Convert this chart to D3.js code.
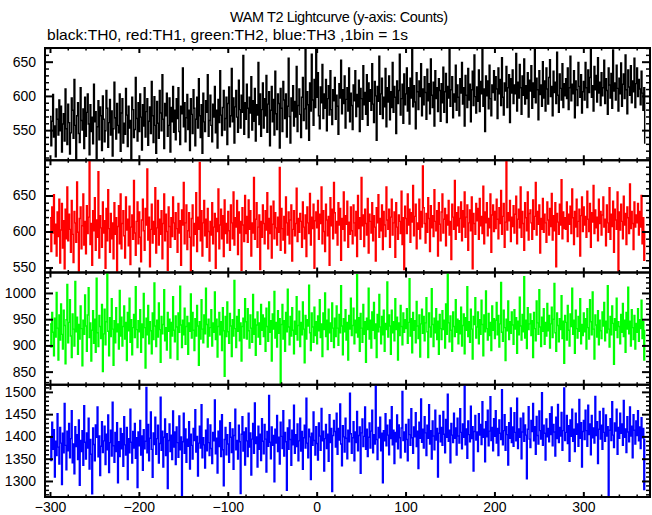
<!DOCTYPE html>
<html><head><meta charset="utf-8">
<script src="https://cdn.jsdelivr.net/npm/d3@7"></script>
<style>
html,body{margin:0;padding:0;background:#fff;}
svg{display:block;font-family:"Liberation Sans",Arial,Helvetica,sans-serif;}
</style></head>
<body><svg id="c" width="652" height="515"></svg>
<script>
// ---------------- data ----------------
const titleText = "WAM T2 Lightcurve (y-axis: Counts)";
const subtitleText = "black:TH0, red:TH1, green:TH2, blue:TH3 ,1bin = 1s";
const seriesNames = ["TH0","TH1","TH2","TH3"];
const seriesColors = ["#000000","#ff0000","#00ff00","#0000ff"];
const tStart = -300;   // time of first bin (s)
const binSize = 1;     // 1bin = 1s
const xDomain = [-305.6, 375];
const xMajorTicks = [-300,-200,-100,0,100,200,300];
const yDomains = [[506,670],[543,699],[825,1039],[1264,1516]];
const yMajorTicks = [[550,600,650],[550,600,650],[850,900,950,1000],[1300,1350,1400,1450,1500]];

const th0 = [
570,527,563,602,540,556,511,581,566,543,594,549,585,518,559,574,534,610,552,529,
588,561,515,546,597,579,538,624,557,507,571,590,545,532,612,564,550,581,523,598,
541,576,603,559,514,587,548,569,530,617,562,577,509,555,593,536,584,571,520,600,
566,533,549,608,582,525,561,595,543,578,512,552,620,568,537,589,557,546,603,519,
575,596,531,560,544,611,572,526,585,553,564,507,598,580,539,551,627,567,534,590,
548,603,569,521,587,556,612,540,577,596,528,563,584,545,621,571,532,599,557,516,
592,560,538,608,575,549,631,566,523,589,571,604,541,557,597,518,583,562,614,547,
579,536,596,567,612,548,529,585,574,641,555,590,533,568,602,551,579,520,596,573,
545,609,582,527,566,598,553,625,571,539,587,516,604,562,548,593,576,631,541,564,
601,557,533,588,569,614,546,579,524,595,561,637,572,542,583,608,550,567,598,529,
589,613,555,571,640,562,597,531,584,608,569,547,623,580,553,601,576,659,544,590,
566,617,582,539,598,575,628,550,593,563,611,534,587,572,649,558,603,541,580,619,
553,596,571,630,547,588,606,527,579,614,562,595,543,636,574,551,603,589,524,611,
582,548,621,594,567,603,540,585,655,570,531,597,578,615,556,592,569,643,548,586,
610,573,539,598,627,564,581,668,552,606,587,535,619,578,661,594,557,624,583,671,
598,634,571,552,613,590,646,567,603,582,624,549,596,615,572,637,580,558,609,593,
627,566,601,585,544,618,597,652,574,609,589,629,553,595,612,578,641,562,604,586,
551,616,593,637,570,602,584,623,548,611,596,566,644,587,605,573,631,557,619,592,
609,579,647,588,561,621,600,535,614,592,658,573,603,626,567,598,584,640,555,612,
591,629,565,606,583,649,576,614,598,545,622,589,608,661,572,596,617,560,632,587,
603,641,578,612,559,626,597,668,584,615,591,552,634,606,580,622,599,647,571,610,
587,628,605,566,639,593,618,574,654,601,583,620,556,637,596,612,577,625,608,563,
618,590,642,576,606,633,561,614,597,671,585,609,628,568,603,591,645,579,616,598,
571,625,604,649,588,612,556,630,601,583,640,594,617,562,609,636,586,660,599,575,
613,592,638,577,621,603,668,585,610,548,629,600,622,581,645,596,571,616,605,637,
594,628,610,567,641,603,624,586,656,598,572,619,607,643,583,612,631,561,625,604,
638,589,616,603,662,578,620,597,646,612,573,629,601,654,588,615,596,634,569,623,
607,644,582,619,598,671,590,626,609,565,637,602,616,585,650,597,622,578,641,610,
588,627,653,599,614,571,636,605,620,589,664,601,576,632,611,594,647,583,618,600,
625,596,641,580,612,658,593,617,603,637,568,622,609,586,649,614,598,631,575,606,
621,594,649,612,583,638,605,627,671,598,615,578,643,609,630,591,656,604,620,586,
634,600,612,652,589,625,608,573,641,616,597,633,582,667,607,619,594,645,611,578,
626,603,648,585,617,632,596,660,609,574,638,613,601,644,590,622,606,655,583,618,
641,599,624,610,587,636,604,579,612,530];

const th1 = [
619,572,634,598,651,583,610,566,627,593,645,556,602,639,577,615,548,631,590,662,
587,624,603,571,643,596,557,628,612,585,669,599,545,618,634,576,608,652,581,614,
569,636,597,620,700,582,611,553,629,601,647,574,616,592,683,563,622,605,578,641,
598,615,549,632,587,658,604,571,625,590,612,562,640,596,619,545,607,636,583,652,
576,611,629,594,563,648,602,617,580,635,554,606,623,589,671,598,567,614,641,583,
627,592,558,616,645,601,574,632,609,687,588,620,551,603,638,584,614,596,661,570,
605,643,581,617,596,629,562,611,652,587,624,600,546,634,607,578,619,593,648,612,
589,626,604,571,639,598,615,553,630,609,668,583,612,637,575,601,626,592,545,618,
637,580,611,596,654,572,620,603,696,587,629,566,612,643,594,617,578,632,600,559,
614,595,640,583,606,625,549,618,600,659,576,609,631,590,622,565,644,597,611,584,
628,601,574,637,612,590,655,581,619,606,643,568,627,598,614,546,633,609,586,650,
597,621,585,644,603,629,566,612,598,675,589,617,640,578,606,623,547,614,592,637,
611,583,629,602,654,576,618,597,635,563,610,642,590,626,605,581,620,599,689,574,
632,604,588,621,570,648,612,595,627,583,616,637,559,603,629,594,611,660,586,618,
599,625,614,578,641,606,590,623,565,634,612,597,653,581,620,604,638,549,615,627,
605,643,589,624,611,662,583,629,600,572,638,616,594,621,553,647,608,631,590,668,
626,598,614,581,640,609,632,560,618,603,655,587,622,610,642,578,613,596,634,601,
583,637,612,594,628,565,650,604,619,589,675,608,623,579,631,611,595,646,570,624,
614,598,640,587,622,606,559,633,612,651,592,618,601,637,575,628,609,593,662,616,
603,631,578,620,645,595,612,627,564,640,606,589,623,614,597,656,582,619,547,635,
618,597,652,609,631,585,626,613,664,594,621,638,576,612,603,645,590,628,606,691,
633,611,584,625,599,647,618,572,636,605,622,593,658,614,601,629,566,640,610,587,
627,652,598,617,632,580,623,609,643,595,614,561,638,620,603,671,589,626,608,634,
599,618,641,587,629,606,655,592,620,637,574,612,630,601,648,548,625,611,596,639,
615,632,589,646,608,621,597,663,583,627,612,640,594,618,605,652,571,623,637,600,
628,604,645,617,590,633,611,657,596,621,639,578,613,699,602,626,615,643,586,620,
607,636,598,624,649,583,617,631,605,662,592,628,611,574,640,619,601,655,588,625,
630,612,589,644,603,621,668,595,628,610,637,570,618,603,646,599,624,612,585,641,
616,595,632,607,653,588,622,601,640,551,625,613,596,638,609,672,590,627,604,619,
603,641,586,624,610,635,597,659,619,582,628,606,645,593,614,631,566,622,648,600,
634,609,621,592,656,617,600,639,578,626,613,664,597,630,605,620,587,645,611,628,
595,623,648,606,617,580,637,612,599,661,589,624,607,642,571,631,616,603,655,545,
627,602,638,614,590,649,609,625,582,634,619,597,666,604,628,611,575,641,606,623,
612,639,595,628,606,650,583,619,560,601];

const th2 = [
941,897,963,925,880,952,916,1001,933,872,958,910,979,921,893,967,938,865,949,1016,
905,944,987,918,877,960,931,899,1022,926,954,883,940,912,975,932,861,948,921,996,
937,889,958,1010,915,943,870,929,966,904,950,887,1028,924,898,957,936,913,978,850,
922,969,901,945,1038,927,880,953,917,989,931,862,947,905,972,926,941,893,1005,918,
954,899,936,975,912,944,871,963,928,990,906,949,882,934,959,915,1012,930,896,947,
926,968,887,941,915,999,934,857,952,920,976,903,945,928,884,962,911,1019,937,898,
948,916,981,930,868,955,922,940,1006,909,934,891,963,927,950,876,944,918,993,929,
907,956,935,873,962,925,1013,939,896,948,920,971,902,936,955,883,943,927,998,914,
963,929,890,951,918,976,937,862,945,912,987,931,905,958,922,1009,940,897,950,918,
934,968,899,943,925,1002,911,950,878,936,963,920,945,890,972,928,841,955,917,983,
926,904,961,937,879,949,918,1024,932,896,955,927,968,909,943,870,936,952,914,989,
945,912,970,928,895,958,933,906,997,921,950,881,939,964,916,943,902,978,929,958,
917,952,889,971,936,908,983,925,947,870,960,931,1003,914,944,897,966,923,951,828,
940,978,912,947,889,963,926,1007,935,901,955,918,972,929,884,946,921,993,910,938,
965,898,944,920,983,931,867,957,912,949,937,1015,924,890,962,935,906,973,919,945,
903,956,928,987,915,941,879,962,930,1000,917,948,892,969,924,943,908,981,933,896,
952,917,975,933,900,959,924,1014,937,882,951,926,968,910,944,872,957,931,990,919,
938,971,903,948,924,1035,916,953,889,961,933,906,978,921,945,868,952,930,1009,912,
948,895,964,929,982,913,941,877,959,926,997,935,903,955,920,967,889,942,930,1021,
916,958,937,883,967,924,945,909,989,930,954,872,943,919,976,936,901,962,925,949,
932,970,904,944,1027,918,951,886,963,929,947,905,984,937,913,958,878,941,969,923,
955,909,943,991,926,877,962,935,916,1008,940,898,952,924,970,911,946,883,959,932,
911,966,930,948,895,979,921,1036,943,907,956,929,889,964,936,917,987,925,950,903,
947,922,973,899,938,960,884,953,929,1012,917,945,906,969,931,874,955,940,991,914,
935,964,903,949,921,986,940,880,958,926,1004,932,910,961,919,944,890,975,929,951,
913,948,982,920,957,897,941,1020,925,908,967,934,871,950,928,985,911,945,923,964,
939,902,968,931,953,885,946,920,992,937,910,959,926,1031,914,948,894,972,930,941,
960,919,947,877,963,932,909,985,943,921,1006,935,898,954,927,970,902,944,918,980,
928,957,895,941,973,915,950,1018,924,889,962,938,907,951,930,995,913,946,866,957,
944,910,976,929,899,960,936,1009,921,948,885,967,932,914,955,927,989,903,940,919,
962,926,951,893,970,934,912,987,945,920,1002,931,874,958,939,916,966,901,948,928,
913,964,937,982,909,946,924,1014,931,897,955,920,975,942,864,951,929,990,915,945,
936,903,959,925,980,917,948,887,963,931,1011,922,946,899,968,934,911,957,893,942,
925,970,908,949,932,986,913,945,872,930];

const th3 = [
1398,1346,1432,1371,1415,1309,1389,1357,1451,1376,1338,1420,1385,1292,1407,1363,1474,1380,1325,1412,
1368,1429,1352,1395,1458,1341,1383,1316,1422,1377,1404,1348,1437,1290,1391,1366,1413,1335,1469,1387,
1349,1408,1374,1441,1327,1393,1360,1271,1419,1382,1345,1426,1398,1466,1354,1401,1312,1378,1433,1364,
1390,1423,1337,1405,1370,1448,1319,1386,1414,1356,1477,1379,1342,1409,1366,1431,1296,1388,1355,1418,
1372,1406,1333,1444,1381,1358,1420,1303,1395,1363,1461,1387,1340,1411,1374,1429,1351,1397,1285,1410,
1379,1436,1358,1401,1324,1415,1372,1389,1510,1363,1427,1345,1396,1455,1371,1308,1408,1382,1443,1360,
1395,1425,1340,1384,1488,1369,1412,1331,1398,1439,1357,1406,1283,1391,1428,1366,1403,1348,1457,1376,
1410,1337,1421,1386,1353,1446,1370,1399,1265,1388,1452,1362,1417,1342,1394,1378,1433,1327,1405,1380,
1349,1418,1391,1460,1365,1400,1311,1385,1423,1374,1471,1352,1397,1381,1329,1414,1368,1439,1386,1357,
1426,1373,1339,1409,1390,1482,1361,1396,1318,1412,1377,1435,1355,1449,1370,1289,1393,1420,1359,1404,
1383,1342,1431,1398,1364,1417,1326,1402,1461,1370,1391,1349,1425,1388,1272,1405,1444,1367,1410,1336,
1419,1390,1355,1452,1376,1408,1313,1394,1429,1362,1475,1384,1399,1331,1423,1371,1405,1346,1440,1389,
1361,1427,1394,1320,1411,1378,1492,1387,1350,1421,1380,1402,1298,1416,1385,1447,1366,1398,1338,1432,
1400,1373,1458,1356,1409,1388,1279,1419,1371,1437,1393,1335,1414,1381,1470,1362,1404,1377,1428,1345,
1390,1441,1367,1411,1326,1397,1425,1374,1486,1385,1352,1416,1399,1303,1407,1380,1455,1391,1358,1422,
1384,1347,1430,1401,1369,1463,1390,1412,1322,1395,1427,1373,1405,1344,1449,1386,1418,1276,1402,1436,
1411,1376,1452,1360,1418,1392,1473,1383,1334,1424,1399,1365,1441,1396,1350,1414,1388,1497,1406,1362,
1397,1433,1345,1410,1386,1456,1368,1402,1421,1317,1408,1439,1377,1400,1466,1371,1416,1355,1398,1430,
1374,1412,1459,1363,1404,1383,1516,1393,1348,1420,1397,1443,1368,1407,1296,1413,1390,1451,1379,1425,
1403,1359,1437,1395,1467,1381,1414,1339,1409,1388,1448,1372,1426,1397,1352,1419,1501,1391,1410,1365,
1427,1393,1345,1438,1404,1380,1462,1397,1362,1421,1399,1453,1377,1412,1328,1432,1396,1484,1387,1416,
1374,1444,1408,1357,1425,1396,1471,1383,1413,1349,1435,1401,1370,1459,1392,1418,1309,1407,1447,1388,
1420,1380,1456,1405,1363,1438,1398,1495,1389,1414,1341,1429,1403,1386,1452,1396,1419,1358,1441,1401,
1385,1462,1409,1372,1428,1398,1516,1381,1417,1351,1435,1404,1388,1468,1395,1422,1322,1411,1447,1392,
1410,1366,1451,1403,1427,1382,1478,1398,1416,1343,1433,1399,1459,1379,1412,1489,1391,1420,1368,1440,
1400,1458,1385,1418,1357,1437,1407,1393,1505,1381,1413,1449,1369,1422,1404,1336,1431,1396,1464,1386,
1421,1378,1453,1409,1390,1486,1373,1417,1398,1441,1350,1410,1452,1389,1426,1403,1305,1416,1467,1394,
1375,1436,1411,1474,1390,1422,1360,1445,1402,1383,1457,1413,1394,1498,1380,1425,1407,1347,1439,1399,
1418,1388,1451,1404,1466,1379,1427,1410,1356,1443,1395,1472,1386,1420,1401,1454,1369,1413,1509,1391,
1409,1447,1384,1424,1344,1437,1400,1461,1389,1416,1366,1452,1405,1428,1378,1483,1396,1431,1331,1411,
1436,1393,1459,1413,1378,1470,1404,1428,1359,1447,1397,1419,1385,1490,1402,1433,1339,1416,1456,1394,
1425,1371,1463,1409,1389,1448,1401,1422,1268,1414,1440,1391,1478,1403,1375,1430,1412,1461,1360,1420,
1396,1452,1407,1428,1380,1481,1398,1417,1364,1444,1410,1388,1466,1401,1423,1352,1449,1414,1383,1435,
1402,1458,1390,1421,1373,1442,1397,1418,1281,1395];

const seriesData = [th0, th1, th2, th3];

// ---------------- layout ----------------
const svg = d3.select("#c");
const L = 45, R = 650, T = 48, B = 497;
const panelH = (B - T) / 4;
const fontSize = 14;

const x = d3.scaleLinear().domain(xDomain).range([L, R]);
const fmt = d3.format("d");

svg.append("rect").attr("width",652).attr("height",515).attr("fill","#fff");

svg.append("text").attr("x", 339).attr("y", 22).attr("text-anchor","middle")
  .attr("font-size", 14.5).attr("fill","#000")
  .attr("textLength", 218).attr("lengthAdjust","spacing").text(titleText);
svg.append("text").attr("x", 47).attr("y", 40).attr("text-anchor","start")
  .attr("font-size", 14.5).attr("fill","#000")
  .attr("textLength", 361).attr("lengthAdjust","spacingAndGlyphs").text(subtitleText);

const xMinor = d3.range(-300, 375, 20).filter(v => !xMajorTicks.includes(v));

seriesData.forEach((vals, k) => {
  const y0 = T + k*panelH, y1 = y0 + panelH;
  const y = d3.scaleLinear().domain(yDomains[k]).range([y1, y0]);
  const g = svg.append("g");
  const clipId = "clip"+k;
  svg.append("clipPath").attr("id", clipId).append("rect")
    .attr("x", L).attr("y", y0).attr("width", R-L).attr("height", panelH);

  const pts = vals.map((v,i) => ({t: tStart + i*binSize, v}));
  const line = d3.line().x(d => x(d.t)).y(d => y(d.v)).curve(d3.curveStepAfter);
  g.append("path").attr("d", line(pts)).attr("fill","none")
    .attr("stroke", seriesColors[k]).attr("stroke-width", 1.4)
    .attr("clip-path", `url(#${clipId})`);

  const [lo, hi] = yDomains[k];
  const yMinor = d3.range(Math.ceil(lo/10)*10, hi+0.001, 10).filter(v => !yMajorTicks[k].includes(v));

  const styleAxis = (sel, w) => {
    sel.select(".domain").remove();
    sel.selectAll(".tick line").attr("stroke","#000").attr("stroke-width", w);
    sel.selectAll("text").attr("font-size", fontSize).attr("fill","#000")
      .attr("font-family",'"Liberation Sans",Arial,Helvetica,sans-serif');
  };
  // left
  g.append("g").attr("transform",`translate(${L},0)`)
    .call(d3.axisLeft(y).tickValues(yMajorTicks[k]).tickSize(-8).tickPadding(9).tickFormat(fmt))
    .call(s => styleAxis(s, 2));
  g.append("g").attr("transform",`translate(${L},0)`)
    .call(d3.axisLeft(y).tickValues(yMinor).tickSize(-4).tickFormat(""))
    .call(s => styleAxis(s, 1.5));
  // right
  g.append("g").attr("transform",`translate(${R},0)`)
    .call(d3.axisRight(y).tickValues(yMajorTicks[k]).tickSize(-8).tickFormat(""))
    .call(s => styleAxis(s, 2));
  g.append("g").attr("transform",`translate(${R},0)`)
    .call(d3.axisRight(y).tickValues(yMinor).tickSize(-4).tickFormat(""))
    .call(s => styleAxis(s, 1.5));
  // top
  g.append("g").attr("transform",`translate(0,${y0})`)
    .call(d3.axisTop(x).tickValues(xMajorTicks).tickSize(-5).tickFormat(""))
    .call(s => styleAxis(s, 2));
  g.append("g").attr("transform",`translate(0,${y0})`)
    .call(d3.axisTop(x).tickValues(xMinor).tickSize(-2.5).tickFormat(""))
    .call(s => styleAxis(s, 1.5));
  // bottom
  g.append("g").attr("transform",`translate(0,${y1})`)
    .call(d3.axisBottom(x).tickValues(xMajorTicks).tickSize(-5).tickPadding(5)
      .tickFormat(k === 3 ? fmt : ""))
    .call(s => styleAxis(s, 2));
  g.append("g").attr("transform",`translate(0,${y1})`)
    .call(d3.axisBottom(x).tickValues(xMinor).tickSize(-2.5).tickFormat(""))
    .call(s => styleAxis(s, 1.5));

  // frame of panel
  g.append("rect").attr("x", L).attr("y", y0).attr("width", R-L).attr("height", panelH)
    .attr("fill","none").attr("stroke","#000").attr("stroke-width", 2);
});
</script></body></html>
